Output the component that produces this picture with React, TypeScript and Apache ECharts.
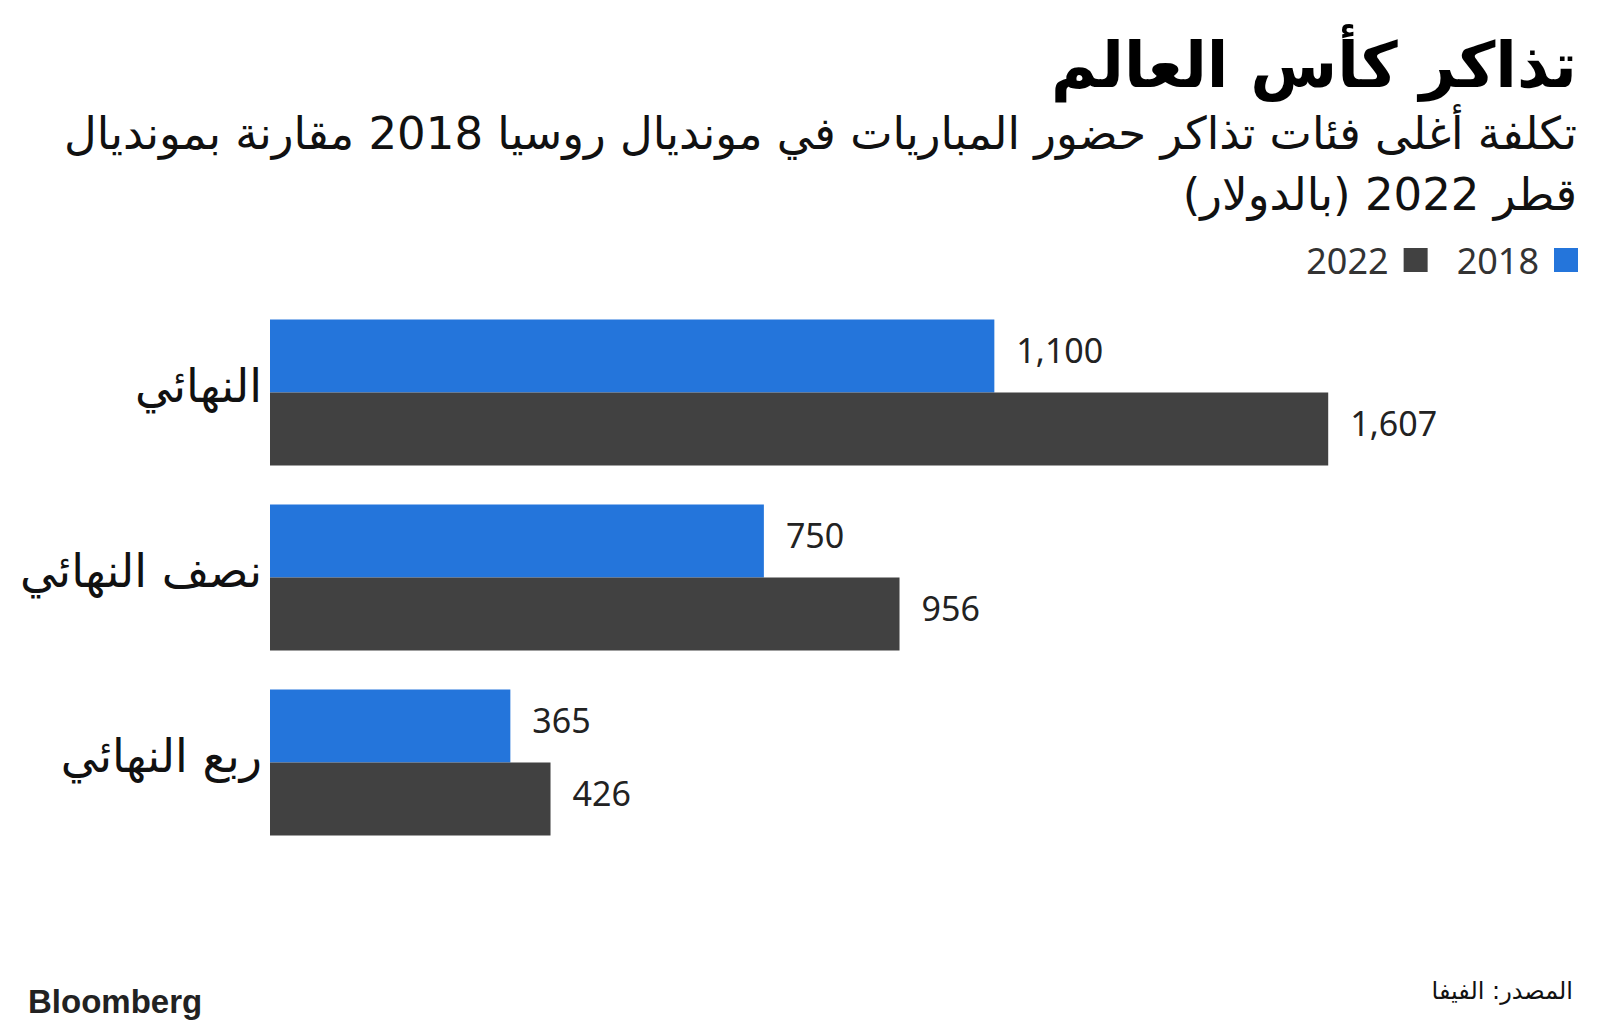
import React, { useEffect, useRef } from "react";
import * as echarts from "echarts";

const categories = ["النهائي", "نصف النهائي", "ربع النهائي"];
const series2018 = [1100, 750, 365];
const series2022 = [1607, 956, 426];
const seriesNames = ["2018", "2022"];
const titleText = "تذاكر كأس العالم";
const subtitleLine1 = "تكلفة أغلى فئات تذاكر حضور المباريات في مونديال روسيا 2018 مقارنة بمونديال";
const subtitleLine2 = "قطر 2022 (بالدولار)";
const sourceText = "المصدر: الفيفا";
const brandText = "Bloomberg";

const BLUE = "#2475db";
const DARK = "#414141";

export default function App() {
  const ref = useRef<HTMLDivElement>(null);
  useEffect(() => {
    document.body.style.margin = "0";
    const chart = echarts.init(ref.current!, null, { renderer: "svg" });
    const fmt = (p: any) => Number(p.value).toLocaleString("en-US");
    const labelStyle = {
      show: true,
      position: "right",
      distance: 22,
      offset: [0, -6],
      formatter: fmt,
      fontFamily: "Noto Sans",
      fontSize: 34,
      color: "#222",
    };
    chart.setOption({
      animation: false,
      backgroundColor: "#ffffff",
      legend: {
        data: [seriesNames[1], seriesNames[0]],
        right: 17,
        top: 237,
        align: "right",
        itemWidth: 24,
        itemHeight: 24,
        itemGap: 29,
        icon: "rect",
        textStyle: {
          fontFamily: "Noto Sans",
          fontSize: 36,
          color: "#333",
          lineHeight: 24,
          padding: [0, 10, 0, 0],
        },
      },
      grid: { left: 270, top: 300, width: 1317, height: 555 },
      xAxis: {
        type: "value",
        min: 0,
        max: 2000,
        show: false,
        splitLine: { show: false },
      },
      yAxis: {
        type: "category",
        data: categories,
        inverse: true,
        axisLine: { show: false },
        axisTick: { show: false },
        axisLabel: {
          fontFamily: "DejaVu Sans",
          fontSize: 46,
          color: "#111",
          margin: 8,
          verticalAlign: "bottom",
          lineHeight: 14,
        },
      },
      series: [
        {
          name: seriesNames[0],
          type: "bar",
          data: series2018,
          barWidth: 73,
          barGap: "0%",
          itemStyle: { color: BLUE },
          label: labelStyle,
        },
        {
          name: seriesNames[1],
          type: "bar",
          data: series2022,
          barWidth: 73,
          barGap: "0%",
          itemStyle: { color: DARK },
          label: labelStyle,
        },
      ],
      graphic: [
        {
          type: "text",
          right: 23,
          top: 34,
          style: {
            text: titleText,
            font: "bold 63px 'DejaVu Sans'",
            fill: "#000",
            textAlign: "right",
          },
        },
        {
          type: "text",
          right: 23,
          top: 111,
          style: {
            text: subtitleLine1,
            font: "45px 'DejaVu Sans'",
            fill: "#111",
            textAlign: "right",
          },
        },
        {
          type: "text",
          right: 23,
          top: 172,
          style: {
            text: subtitleLine2,
            font: "45px 'DejaVu Sans'",
            fill: "#111",
            textAlign: "right",
          },
        },
        {
          type: "text",
          left: 28,
          top: 985,
          style: {
            text: brandText,
            font: "bold 33px 'Liberation Sans'",
            fill: "#222",
          },
        },
        {
          type: "text",
          right: 27,
          top: 979,
          style: {
            text: sourceText,
            font: "24px 'DejaVu Sans'",
            fill: "#111",
            textAlign: "right",
          },
        },
      ],
    });
    return () => chart.dispose();
  }, []);
  return <div ref={ref} style={{ width: 1600, height: 1035 }} />;
}
